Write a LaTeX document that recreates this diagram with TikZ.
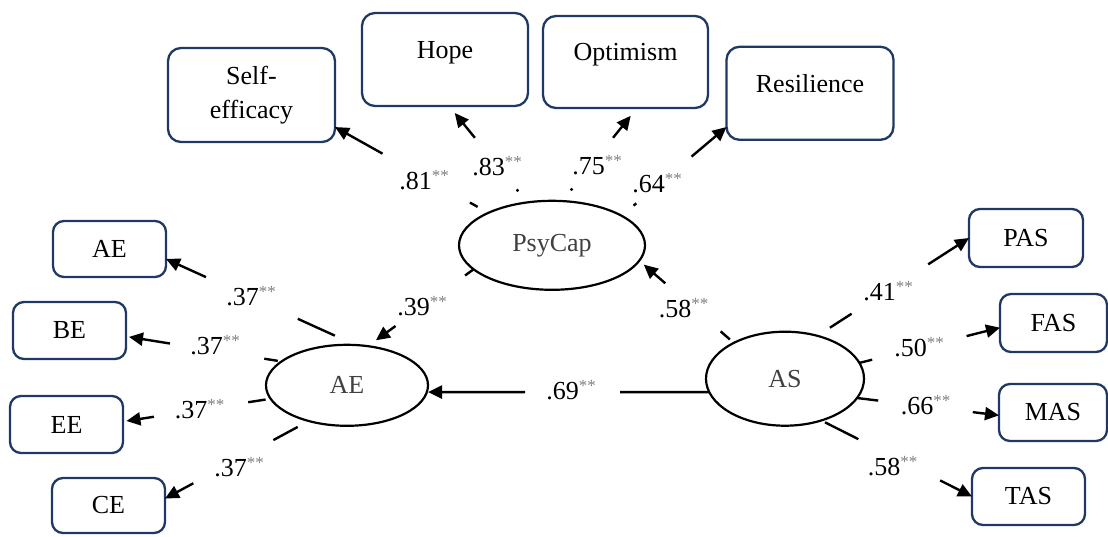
\documentclass[tikz,border=0pt]{standalone}
\usepackage{fontspec}
\setmainfont{Liberation Serif}
\usetikzlibrary{shapes.geometric,arrows.meta,calc}
\definecolor{c1f3864}{RGB}{31,56,100}
\definecolor{c808080}{RGB}{128,128,128}
\definecolor{c404040}{RGB}{64,64,64}
\newcommand{\sigstars}{\raisebox{8pt}{\fontsize{17}{17}\selectfont\color{c808080}**}}

\begin{document}
\begin{tikzpicture}[y=1pt, x=1pt, yscale=-1, inner sep=0pt, outer sep=0pt,
  font=\fontsize{26}{30}\selectfont,
  ind/.style={draw=c1f3864, line width=2.3pt, rounded corners=13pt, align=center},
  big/.style={ind, minimum width=166pt, minimum height=93pt},
  small/.style={ind, rounded corners=11pt, minimum width=113pt, minimum height=57pt},
  lat/.style={ellipse, draw=black, line width=2.2pt, text=c404040},
  tick/.style={draw=black, line width=2.4pt},
  arr/.style={tick, -{Triangle[length=14pt,width=13pt]}}]
\useasboundingbox (0,0) rectangle (1108,536);

  % latent variables
  \node[lat, minimum width=186pt, minimum height=89pt] (psy) at (552,245.3) {PsyCap};
  \node[lat, minimum width=162pt, minimum height=81pt] (ae) at (347,385.3) {AE};
  \node[lat, minimum width=158pt, minimum height=94pt] (as) at (785,378.7) {AS};

  % PsyCap indicators
  \node[big, minimum width=167pt, minimum height=94pt] (self) at (251.5,95) {Self-\\[4pt]efficacy};
  \node[big, text depth=20pt] (hope) at (445,59.5) {Hope};
  \node[big, minimum width=165pt, minimum height=92pt, text depth=20pt] (opt) at (625.5,62) {Optimism};
  \node[big, minimum width=167pt, text depth=20pt] (res) at (810,93.3) {Resilience};

  % AE indicators
  \node[small, minimum height=56pt] (boxae) at (109.5,249) {AE};
  \node[small] (boxbe) at (69.5,330.5) {BE};
  \node[small] (boxee) at (66.5,424.5) {EE};
  \node[small, minimum height=55pt] (boxce) at (108.5,505.5) {CE};

  % AS indicators
  \node[small, minimum width=114pt, minimum height=58pt] (pas) at (1026,238) {PAS};
  \node[small, minimum width=107pt, minimum height=58pt] (fas) at (1053.5,323) {FAS};
  \node[small, minimum width=108pt] (mas) at (1053,412.5) {MAS};
  \node[small] (tas) at (1028.5,496.5) {TAS};

  % loadings of PsyCap
  \draw[tick] ($(psy.153)!.07!(self.-21)$) -- ($(psy.153)!.12!(self.-21)$);
  \draw[arr] ($(psy.153)!.69!(self.-21)$) -- (self.-21);
  \draw[tick] ($(psy.120)!.115!(hope.-85)$) -- ($(psy.120)!.135!(hope.-85)$);
  \draw[arr, shorten >=9pt] ($(psy.120)!.67!(hope.-85)$) -- (hope.-85);
  \draw[tick] ($(psy.77)!.115!(opt.-76)$) -- ($(psy.77)!.135!(opt.-76)$);
  \draw[arr, shorten >=10pt] ($(psy.77)!.68!(opt.-76)$) -- (opt.-76);
  \draw[tick] ($(psy.23)!.114!(res.202)$) -- ($(psy.23)!.14!(res.202)$);
  \draw[arr] ($(psy.23)!.667!(res.202)$) -- (res.202);

  % loadings of AE
  \draw[tick] ($(ae.78)!.109!(boxae.-10)$) -- ($(ae.78)!.305!(boxae.-10)$);
  \draw[arr] ($(ae.78)!.789!(boxae.-10)$) -- (boxae.-10);
  \draw[tick] ($(ae.160)!.024!(boxbe.-6)$) -- ($(ae.160)!.111!(boxbe.-6)$);
  \draw[arr, shorten >=3pt] ($(ae.160)!.717!(boxbe.-6)$) -- (boxbe.-6);
  \draw[tick] ($(ae.190)!.034!(boxee.3)$) -- ($(ae.190)!.152!(boxee.3)$);
  \draw[arr, shorten >=3.5pt] ($(ae.190)!.79!(boxee.3)$) -- (boxee.3);
  \draw[tick] ($(ae.223)!.077!(boxce.7)$) -- ($(ae.223)!.246!(boxce.7)$);
  \draw[arr] ($(ae.223)!.803!(boxce.7)$) -- (boxce.7);

  % loadings of AS
  \draw[tick] ($(as.53)!.083!(pas.west)$) -- ($(as.53)!.226!(pas.west)$);
  \draw[arr] ($(as.53)!.731!(pas.west)$) -- (pas.west);
  \draw[tick] (as.12) -- ($(as.12)!.091!(fas.185)$);
  \draw[arr] ($(as.12)!.762!(fas.185)$) -- (fas.185);
  \draw[tick] (as.-15) -- ($(as.-15)!.149!(mas.183)$);
  \draw[arr] ($(as.-15)!.815!(mas.183)$) -- (mas.183);
  \draw[tick] ($(as.-49)!.025!(tas.west)$) -- ($(as.-49)!.246!(tas.west)$);
  \draw[arr] ($(as.-49)!.788!(tas.west)$) -- (tas.west);

  % structural paths
  \coordinate (aetip) at (as.190 -| ae.east);
  \draw[tick] (psy.197) -- ($(psy.197)!.081!(ae.62)$);
  \draw[arr, shorten >=10pt] ($(psy.197)!.738!(ae.62)$) -- (ae.62);
  \draw[tick] ($(as.145)!.042!(psy.-10)$) -- ($(as.145)!.14!(psy.-10)$);
  \draw[arr, shorten >=6pt] ($(as.145)!.725!(psy.-10)$) -- (psy.-10);
  \draw[tick] (as.190) -- ($(as.190)!.317!(aetip)$);
  \draw[arr] ($(as.190)!.655!(aetip)$) -- (aetip);

  % coefficients
  \node (l81) at (424,180) {.81\sigstars};
  \node (l83) at (497,166) {.83\sigstars};
  \node (l75) at (597,165) {.75\sigstars};
  \node (l64) at (657,183) {.64\sigstars};
  \node (l39) at (422,306) {.39\sigstars};
  \node (l58a) at (683.5,308) {.58\sigstars};
  \node (l69) at (571,390) {.69\sigstars};
  \node (l37a) at (251,296) {.37\sigstars};
  \node (l37b) at (215,345) {.37\sigstars};
  \node (l37c) at (199.5,409) {.37\sigstars};
  \node (l37d) at (239,467) {.37\sigstars};
  \node (l41) at (888,291) {.41\sigstars};
  \node (l50) at (919,347) {.50\sigstars};
  \node (l66) at (925.5,405) {.66\sigstars};
  \node (l58b) at (892.5,466) {.58\sigstars};
\end{tikzpicture}
\end{document}
